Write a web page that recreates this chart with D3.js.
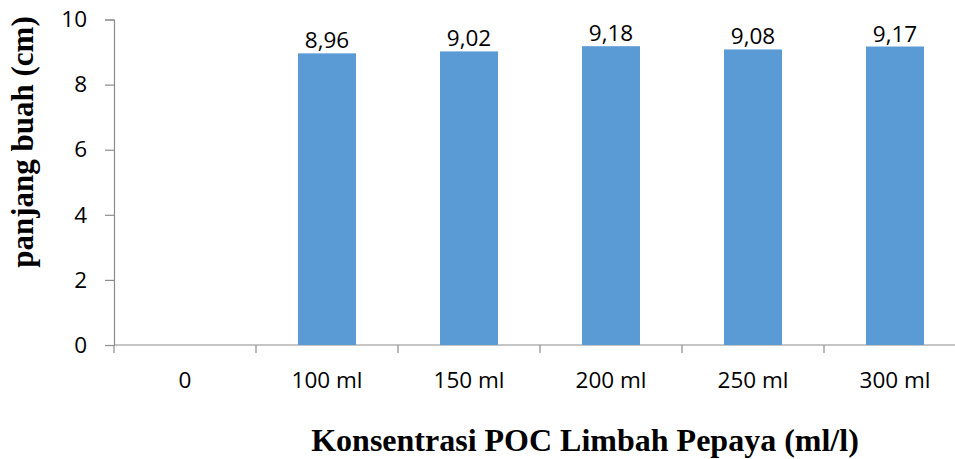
<!DOCTYPE html>
<html>
<head>
<meta charset="utf-8">
<script src="https://cdn.jsdelivr.net/npm/d3@7"></script>
<style>
  body { margin: 0; background: #fff; }
  svg { display: block; }
</style>
</head>
<body>
<svg id="chart"></svg>
<script>
const categories = ["0", "100 ml", "150 ml", "200 ml", "250 ml", "300 ml"];
const values = [null, 8.96, 9.02, 9.18, 9.08, 9.17];
const yTicks = [0, 2, 4, 6, 8, 10];

const W = 955, H = 459;
const svg = d3.select("#chart").attr("width", W).attr("height", H);

const x = d3.scaleBand().domain(categories).range([114, 966]).padding(0);
const y = d3.scaleLinear().domain([0, 10]).range([345, 19.5]);

const axisColor = "#8c8c8c";
const tickFont = "'Open Sans', 'Liberation Sans', sans-serif";
const fs = "22.5px";

// y axis
const yAxis = svg.append("g")
  .attr("transform", "translate(114,0)")
  .call(d3.axisLeft(y).tickValues(yTicks).tickSize(9).tickPadding(18).tickFormat(d3.format("d")));
yAxis.select(".domain").attr("stroke", axisColor).attr("stroke-width", 1.2);
yAxis.selectAll(".tick line").attr("stroke", axisColor).attr("stroke-width", 1.2);
yAxis.selectAll(".tick text")
  .style("font-family", tickFont).style("font-size", fs).attr("fill", "#000");

// x axis (ticks at category boundaries)
const xg = svg.append("g");
xg.append("line")
  .attr("x1", 114).attr("x2", W).attr("y1", y(0)).attr("y2", y(0))
  .attr("stroke", axisColor).attr("stroke-width", 1.2);
xg.selectAll(".xt")
  .data(categories)
  .join("line")
  .attr("x1", d => x(d)).attr("x2", d => x(d))
  .attr("y1", y(0)).attr("y2", y(0) + 8)
  .attr("stroke", axisColor).attr("stroke-width", 1.2);
xg.selectAll(".xl")
  .data(categories)
  .join("text")
  .attr("x", d => x(d) + x.bandwidth() / 2)
  .attr("y", 388)
  .attr("text-anchor", "middle")
  .style("font-family", tickFont).style("font-size", fs)
  .text(d => d);

// bars
const data = categories.map((c, i) => ({ c, v: values[i] })).filter(d => d.v != null);
const bw = 58;
svg.selectAll(".bar")
  .data(data)
  .join("rect")
  .attr("x", d => x(d.c) + x.bandwidth() / 2 - bw / 2)
  .attr("y", d => y(d.v))
  .attr("width", bw)
  .attr("height", d => y(0) - y(d.v))
  .attr("fill", "#5b9bd5");

svg.selectAll(".lbl")
  .data(data)
  .join("text")
  .attr("x", d => x(d.c) + x.bandwidth() / 2)
  .attr("y", d => y(d.v) - 5)
  .attr("text-anchor", "middle")
  .style("font-family", tickFont).style("font-size", fs)
  .text(d => d3.format(".2f")(d.v).replace(".", ","));

// axis titles
svg.append("text")
  .attr("transform", "translate(33,142) rotate(-90)")
  .attr("text-anchor", "middle")
  .style("font-family", "'Liberation Serif', 'Times New Roman', serif")
  .style("font-weight", "bold").style("font-size", "31px")
  .text("panjang buah (cm)");

svg.append("text")
  .attr("x", 585).attr("y", 451)
  .attr("text-anchor", "middle")
  .style("font-family", "'Liberation Serif', 'Times New Roman', serif")
  .style("font-weight", "bold").style("font-size", "32px")
  .text("Konsentrasi POC Limbah Pepaya (ml/l)");
</script>
</body>
</html>
